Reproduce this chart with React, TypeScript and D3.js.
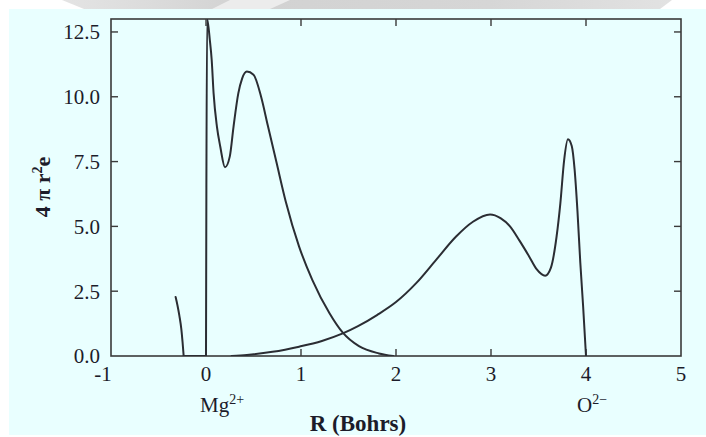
import React from "react";
import * as d3 from "d3";

// Data
const xTicks = [-1, 0, 1, 2, 3, 4, 5];
const yTicks = [0, 2.5, 5, 7.5, 10, 12.5];
const yTickLabels = ["0.0", "2.5", "5.0", "7.5", "10.0", "12.5"];

// Mg2+ radial density: small inner tail, flat zero part, main shell
const mgTailR = [-0.32, -0.3, -0.28, -0.26, -0.247, -0.235];
const mgTailD = [2.28, 1.95, 1.55, 1.05, 0.55, 0.0];
const mgFlatR = [-0.235, 0.0];
const mgFlatD = [0.0, 0.0];
const mgR = [0.0, 0.004, 0.012, 0.04, 0.06, 0.08, 0.115, 0.15, 0.2, 0.25, 0.29, 0.34, 0.38, 0.43, 0.5, 0.58, 0.65, 0.74, 0.84, 0.98, 1.12, 1.3, 1.44, 1.61, 1.82, 1.97];
const mgD = [0.0, 6.5, 13.0, 12.2, 11.42, 10.13, 8.85, 8.08, 7.28, 7.69, 8.85, 10.13, 10.7, 10.97, 10.85, 10.0, 8.9, 7.5, 5.95, 4.22, 2.93, 1.65, 0.9, 0.38, 0.1, 0.0];

// O2- radial density
const oR = [0.27, 0.43, 0.7, 0.98, 1.22, 1.44, 1.6, 1.8, 2.0, 2.21, 2.42, 2.63, 2.81, 2.99, 3.1, 3.2, 3.3, 3.4, 3.48, 3.57, 3.63, 3.69, 3.73, 3.77, 3.81, 3.85, 3.88, 3.91, 3.94, 3.97, 4.0];
const oD = [0.0, 0.04, 0.16, 0.36, 0.58, 0.87, 1.15, 1.58, 2.08, 2.8, 3.7, 4.6, 5.18, 5.46, 5.32, 5.0, 4.45, 3.85, 3.35, 3.1, 3.4, 4.6, 5.89, 7.56, 8.36, 8.1, 7.2, 5.6, 3.6, 1.9, 0.0];

const W = 706;
const H = 437;
const left = 111;
const right = 681;
const top = 19;
const bottom = 356;

export default function App() {
  const x = d3.scaleLinear().domain([-1, 5]).range([left, right]);
  const y = d3.scaleLinear().domain([0, 13]).range([bottom, top]);

  const smooth = d3
    .line<[number, number]>()
    .x((d) => x(d[0]))
    .y((d) => y(d[1]))
    .curve(d3.curveMonotoneX);
  const straight = d3
    .line<[number, number]>()
    .x((d) => x(d[0]))
    .y((d) => y(d[1]));

  const zip = (a: number[], b: number[]) => a.map((v, i) => [v, b[i]] as [number, number]);

  const curveStroke = "#2b2d33";
  const axisStroke = "#3a3a3a";
  const textFill = "#1c1c2a";
  const serif = "'Liberation Serif', 'DejaVu Serif', serif";

  return (
    <svg
      width={W}
      height={H}
      style={{ position: "absolute", left: 0, top: 0, display: "block" }}
      xmlns="http://www.w3.org/2000/svg"
    >
      <defs>
        <clipPath id="plotclip">
          <rect x={left} y={top} width={right - left} height={bottom - top} />
        </clipPath>
        <linearGradient id="smear" x1="0" x2="1" y1="0" y2="0">
          <stop offset="0" stopColor="#e4e4e4" />
          <stop offset="0.3" stopColor="#d2d2d2" />
          <stop offset="0.7" stopColor="#d6d6d6" />
          <stop offset="1" stopColor="#e2e2e2" />
        </linearGradient>
      </defs>
      <rect x={0} y={0} width={W} height={H} fill="#ffffff" />
      {/* faint gray smear at the very top of the scan */}
      <polygon points="62,0 672,0 660,9 84,9" fill="url(#smear)" />
      <polygon points="230,0 290,0 270,9 212,9" fill="#ececec" />
      <rect x={9} y={9} width={W - 9} height={H - 11} fill="#e9ffff" />

      {/* plot frame */}
      <rect
        x={left}
        y={top}
        width={right - left}
        height={bottom - top}
        fill="none"
        stroke={axisStroke}
        strokeWidth={1.6}
      />

      {/* y ticks (inward, both sides) */}
      {yTicks.map((t, i) => (
        <g key={"y" + i}>
          {i > 0 && (
            <>
              <line x1={left} x2={left + 7} y1={y(t)} y2={y(t)} stroke={axisStroke} strokeWidth={1.4} />
              <line x1={right} x2={right - 7} y1={y(t)} y2={y(t)} stroke={axisStroke} strokeWidth={1.4} />
            </>
          )}
          <text
            x={left - 11}
            y={y(t)}
            dy="0.35em"
            textAnchor="end"
            fontFamily={serif}
            fontSize={21}
            fill={textFill}
          >
            {yTickLabels[i]}
          </text>
        </g>
      ))}

      {/* x ticks (inward, top and bottom) */}
      {xTicks.map((t, i) => (
        <g key={"x" + i}>
          {i > 0 && i < xTicks.length - 1 && (
            <>
              <line x1={x(t)} x2={x(t)} y1={bottom} y2={bottom - 7} stroke={axisStroke} strokeWidth={1.4} />
              <line x1={x(t)} x2={x(t)} y1={top} y2={top + 7} stroke={axisStroke} strokeWidth={1.4} />
            </>
          )}
          <text
            x={x(t) - (t < 0 ? 8 : 0)}
            y={381}
            textAnchor="middle"
            fontFamily={serif}
            fontSize={21}
            fill={textFill}
          >
            {t < 0 ? "-" + Math.abs(t) : String(t)}
          </text>
        </g>
      ))}

      {/* curves */}
      <g clipPath="url(#plotclip)" fill="none" stroke={curveStroke} strokeWidth={2} strokeLinejoin="round" strokeLinecap="round">
        <path d={smooth(zip(mgTailR, mgTailD)) || ""} />
        <path d={straight(zip(mgFlatR, mgFlatD)) || ""} />
        <path d={smooth(zip(mgR, mgD)) || ""} />
        <path d={smooth(zip(oR, oD)) || ""} />
      </g>

      {/* ion labels */}
      <text x={x(0) - 6} y={412} fontFamily={serif} fontSize={21} fill={textFill}>
        Mg
        <tspan fontSize={14} dy={-8}>2+</tspan>
      </text>
      <text x={x(4) - 9} y={412} fontFamily={serif} fontSize={21} fill={textFill}>
        O
        <tspan fontSize={14} dy={-8}>2−</tspan>
      </text>

      {/* axis titles */}
      <text
        x={358}
        y={431}
        textAnchor="middle"
        fontFamily={serif}
        fontWeight="bold"
        fontSize={23}
        fill={textFill}
      >
        R (Bohrs)
      </text>
      <text
        transform="translate(50,187) rotate(-90)"
        textAnchor="middle"
        fontFamily={serif}
        fontWeight="bold"
        fontSize={22}
        fill={textFill}
      >
        4 π r
        <tspan fontSize={14} dy={-8}>2</tspan>
        <tspan dy={8}>e</tspan>
      </text>
    </svg>
  );
}
